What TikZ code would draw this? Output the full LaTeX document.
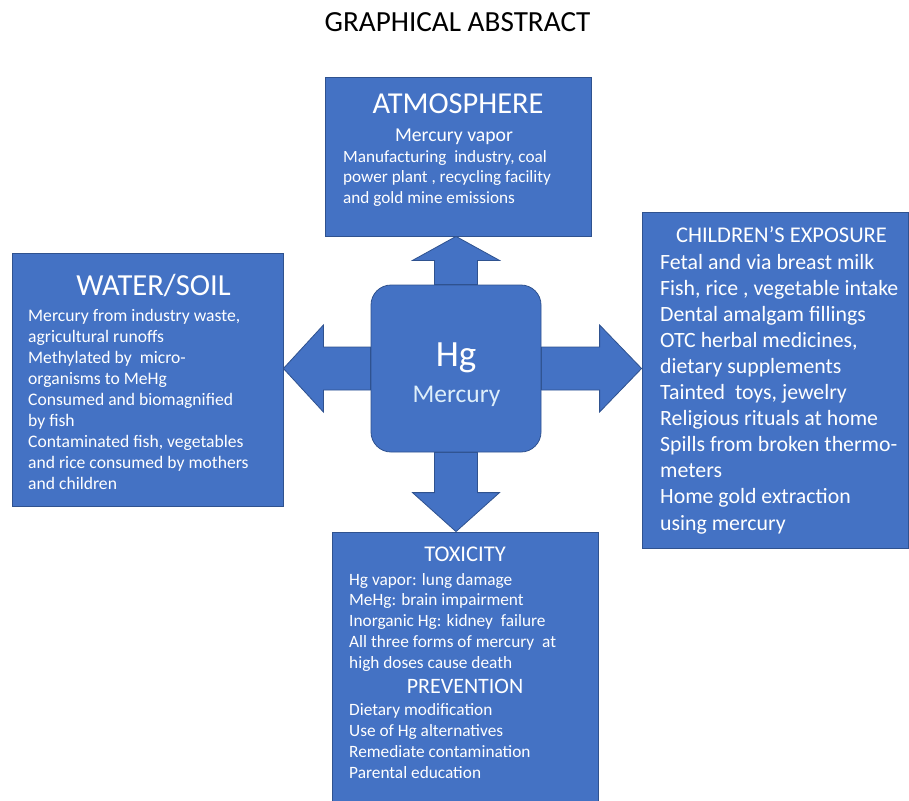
\documentclass[tikz,border=0pt]{standalone}
\usepackage{fontspec}
\setmainfont{Carlito}
\usetikzlibrary{calc,backgrounds}

\definecolor{hgblue}{HTML}{4472C4}
\definecolor{hgedge}{HTML}{2F528F}
\definecolor{hglight}{HTML}{DDEEFA}

% block arrow: head length, from, to
\newcommand{\fatarrow}[3]{
\coordinate (hb) at ($(#3)!#1!(#2)$);
\filldraw[arrowbody] ($(#2)!21.5pt!90:(#3)$) -- ($(hb)!21.5pt!90:(#3)$) -- ($(hb)!43.5pt!90:(#3)$) -- (#3) -- ($(hb)!43.5pt!-90:(#3)$) -- ($(hb)!21.5pt!-90:(#3)$) -- ($(#2)!21.5pt!-90:(#3)$) -- cycle;
}

\begin{document}
\begin{tikzpicture}[x=1pt, y=-1pt,
  panel/.style={draw=hgedge, fill=hgblue, line width=0.8pt, inner sep=0pt},
  arrowbody/.style={draw=hgedge, fill=hgblue, line width=0.8pt},
  txt/.style={text=white, inner sep=0pt},
  body/.style={txt, anchor=north west, align=left}]

\useasboundingbox (0,0) rectangle (909,800);

\node[anchor=base, inner sep=0pt, font=\fontsize{29.2}{30}\selectfont] (title) at (457.5,32) {GRAPHICAL ABSTRACT};

% the boxes
\node[panel, minimum width=266pt, minimum height=159pt] (atm) at (458,156.5) {};
\node[panel, minimum width=271pt, minimum height=253pt] (wat) at (147.5,379.5) {};
\node[panel, minimum width=266pt, minimum height=336pt] (chi) at (775,380) {};
\node[panel, minimum width=266pt, minimum height=272pt] (tox) at (465,668) {};
\node[panel, rounded corners=20pt, minimum width=170pt, minimum height=167pt] (hg) at (456,368.5) {};

\coordinate (upTip) at (hg.north |- atm.south);
\coordinate (rightTip) at (hg.east -| chi.west);
\coordinate (downTip) at (hg.south |- tox.north);
\coordinate (leftTip) at (wat.east |- hg.west);

\begin{scope}[on background layer]
\fatarrow{24pt}{hg.north}{upTip}
\fatarrow{40pt}{hg.west}{leftTip}
\fatarrow{42pt}{hg.east}{rightTip}
\fatarrow{39pt}{hg.south}{downTip}
\end{scope}

% centre
\node[txt, anchor=base, font=\fontsize{37}{40}\selectfont] (hgT) at (456,366) {Hg};
\node[txt, anchor=base, text=hglight, font=\fontsize{25.5}{28}\selectfont] (hgN) at (456.5,402) {Mercury};

% atmosphere
\node[txt, anchor=base, font=\fontsize{30.4}{32}\selectfont] (atmT) at (458,113) {ATMOSPHERE};
\node[txt, anchor=base, font=\fontsize{19.7}{21}\selectfont] (atmV) at (454,141) {Mercury vapor};
\node[body, font=\fontsize{17.2}{20.5}\selectfont] (atmB) at (343,150.1) {Manufacturing~ industry, coal\\power plant , recycling facility\\and gold mine emissions};

% water and soil
\node[txt, anchor=base, font=\fontsize{30.6}{32}\selectfont] (watT) at (153.5,295) {WATER/SOIL};
\node[body, font=\fontsize{17.6}{21}\selectfont] (watB) at (28,308.8) {Mercury from industry waste,\\agricultural runoffs\\Methylated by~ micro-\\organisms to MeHg\\Consumed and biomagnified\\by fish\\Contaminated fish, vegetables\\and rice consumed by mothers\\and children};

% children
\node[txt, anchor=base, font=\fontsize{22.5}{24}\selectfont] (chiT) at (781.5,242) {CHILDREN’S EXPOSURE};
\node[body, font=\fontsize{21.8}{26.1}\selectfont] (chiB) at (660,253.7) {Fetal and via breast milk\\Fish, rice , vegetable intake\\Dental amalgam fillings\\OTC herbal medicines,\\dietary supplements\\Tainted~ toys, jewelry\\Religious rituals at home\\Spills from broken thermo-\\meters\\Home gold extraction\\using mercury};

% toxicity and prevention
\node[txt, anchor=base, font=\fontsize{22.5}{24}\selectfont] (toxT) at (465,561) {TOXICITY};
\node[body, font=\fontsize{17.3}{20.75}\selectfont] (toxB) at (349,572.9) {Hg vapor: lung damage\\MeHg: brain impairment\\Inorganic Hg: kidney~ failure\\All three forms of mercury~ at\\high doses cause death};
\node[txt, anchor=base, font=\fontsize{22}{24}\selectfont] (prvT) at (465,693) {PREVENTION};
\node[body, font=\fontsize{17.3}{21}\selectfont] (prvB) at (349,702.9) {Dietary modification\\Use of Hg alternatives\\Remediate contamination\\Parental education};

\end{tikzpicture}
\end{document}
